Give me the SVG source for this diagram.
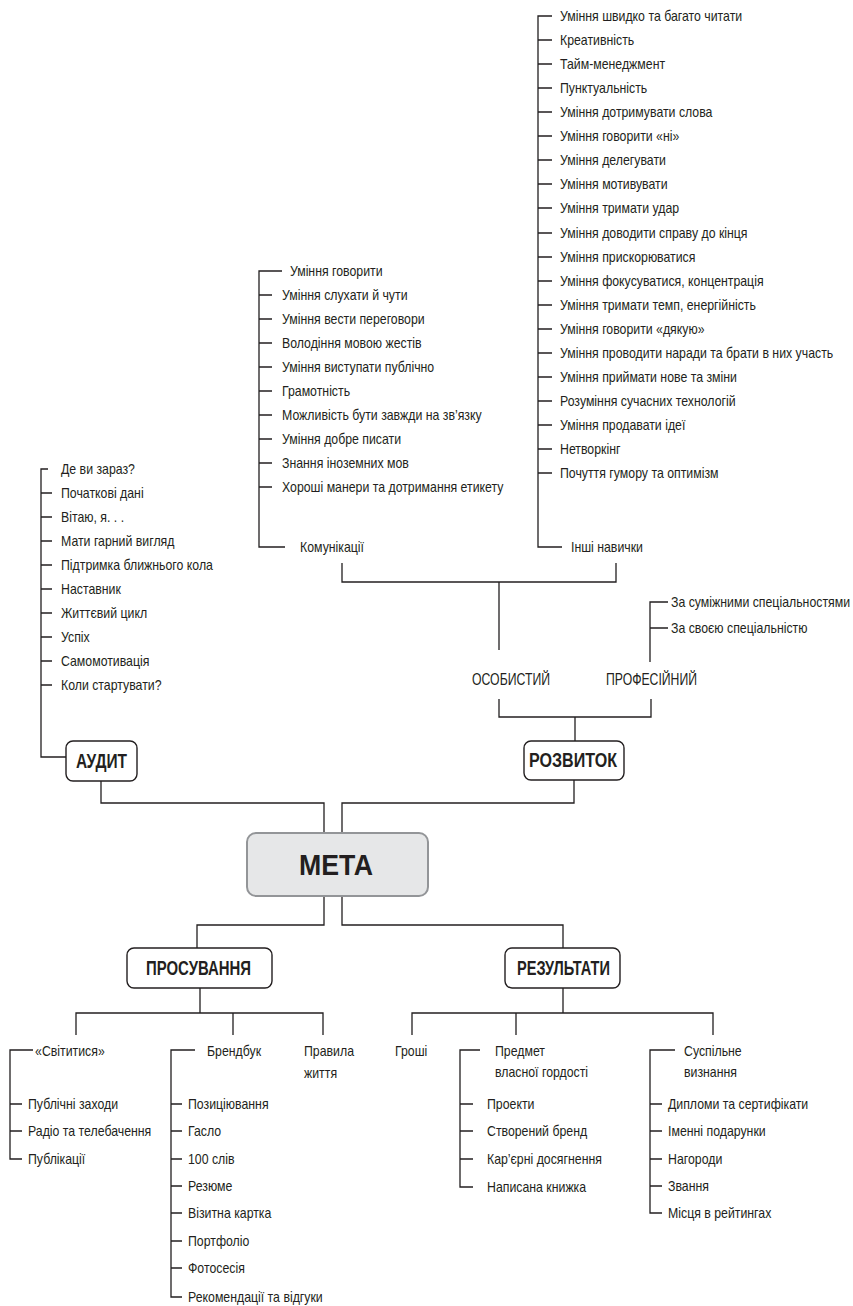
<svg xmlns="http://www.w3.org/2000/svg" width="853" height="1306" viewBox="0 0 853 1306">
<style>
text{font-family:"Liberation Sans",Arial,sans-serif;fill:#231f20}
.t{font-size:14px}
.m{font-size:16px;text-anchor:middle}
.b{font-weight:bold;text-anchor:middle;font-size:20px}
.big{font-weight:bold;text-anchor:middle;font-size:29px}
.ln{fill:none;stroke:#231f20;stroke-width:1.3}
.box{fill:#fff;stroke:#231f20;stroke-width:1.4}
</style>
<rect width="853" height="1306" fill="#fff"/>
<g id="connectors" class="ln">
<path d="M552,16H538V547H562"/>
<path d="M538,40H552M538,64H552M538,88H552M538,112H552M538,136H552M538,160H552M538,184H552M538,208H552M538,233H552M538,257H552M538,281H552M538,305H552M538,329H552M538,353H552M538,377H552M538,401H552M538,425H552M538,449H552M538,473H552"/>
<path d="M282,271H259V547H285"/>
<path d="M259,295H272M259,319H272M259,343H272M259,367H272M259,391H272M259,415H272M259,439H272M259,463H272M259,487H272"/>
<path d="M342,563V582H616V563M499,582V650"/>
<path d="M668,602H650V662M650,628H668"/>
<path d="M499,699V717H651V699M575,717V741"/>
<path d="M574,780V803H342V833"/>
<path d="M48,469H41V757H66"/>
<path d="M41,493H52M41,517H52M41,541H52M41,565H52M41,589H52M41,613H52M41,637H52M41,661H52M41,685H52"/>
<path d="M101,781V803H324V833"/>
<path d="M324,896V925H197V948M342,896V925H563V948"/>
<path d="M200,988V1013M76,1035V1013H323V1035M233,1013V1035"/>
<path d="M563,988V1013M412,1035V1013H713V1035M516,1013V1035"/>
<path d="M33,1050H10V1159H22M10,1104H22M10,1131H22"/>
<path d="M195,1050H171V1297H182M171,1104H182M171,1131H182M171,1159H182M171,1186H182M171,1213H182M171,1241H182M171,1268H182"/>
<path d="M480,1050H460V1187H473M460,1104H473M460,1131H473M460,1159H473"/>
<path d="M675,1050H650V1213H662M650,1104H662M650,1131H662M650,1159H662M650,1186H662"/>
</g>
<g id="other-skills" class="t" transform="translate(560,0) scale(0.88,1)">
<text x="0" y="21">Уміння швидко та багато читати</text>
<text x="0" y="45">Креативність</text>
<text x="0" y="69">Тайм-менеджмент</text>
<text x="0" y="93">Пунктуальність</text>
<text x="0" y="117">Уміння дотримувати слова</text>
<text x="0" y="141">Уміння говорити «ні»</text>
<text x="0" y="165">Уміння делегувати</text>
<text x="0" y="189">Уміння мотивувати</text>
<text x="0" y="213">Уміння тримати удар</text>
<text x="0" y="238">Уміння доводити справу до кінця</text>
<text x="0" y="262">Уміння прискорюватися</text>
<text x="0" y="286">Уміння фокусуватися, концентрація</text>
<text x="0" y="310">Уміння тримати темп, енергійність</text>
<text x="0" y="334">Уміння говорити «дякую»</text>
<text x="0" y="358">Уміння проводити наради та брати в них участь</text>
<text x="0" y="382">Уміння приймати нове та зміни</text>
<text x="0" y="406">Розуміння сучасних технологій</text>
<text x="0" y="430">Уміння продавати ідеї</text>
<text x="0" y="454">Нетворкінг</text>
<text x="0" y="478">Почуття гумору та оптимізм</text>
<text x="12.5" y="552">Інші навички</text>
</g>
<g id="communication" class="t" transform="translate(282,0) scale(0.88,1)">
<text x="9" y="276">Уміння говорити</text>
<text x="0" y="300">Уміння слухати й чути</text>
<text x="0" y="324">Уміння вести переговори</text>
<text x="0" y="348">Володіння мовою жестів</text>
<text x="0" y="372">Уміння виступати публічно</text>
<text x="0" y="396">Грамотність</text>
<text x="0" y="420">Можливість бути завжди на зв’язку</text>
<text x="0" y="444">Уміння добре писати</text>
<text x="0" y="468">Знання іноземних мов</text>
<text x="0" y="492">Хороші манери та дотримання етикету</text>
<text x="20.5" y="552">Комунікації</text>
</g>
<g id="personal"><text class="m" x="511" y="685" textLength="78" lengthAdjust="spacingAndGlyphs">ОСОБИСТИЙ</text></g>
<g id="professional">
<text class="m" x="651.5" y="685" textLength="91" lengthAdjust="spacingAndGlyphs">ПРОФЕСІЙНИЙ</text>
<g class="t" transform="translate(671,0) scale(0.88,1)">
<text x="0" y="607">За суміжними спеціальностями</text>
<text x="0" y="633">За своєю спеціальністю</text>
</g>
</g>
<g id="rozvytok">
<rect class="box" x="524" y="741" width="100" height="39" rx="7"/>
<text class="b" x="573" y="767" textLength="88" lengthAdjust="spacingAndGlyphs">РОЗВИТОК</text>
</g>
<g id="audit-list" class="t" transform="translate(61,0) scale(0.88,1)">
<text x="0" y="474">Де ви зараз?</text>
<text x="0" y="498">Початкові дані</text>
<text x="0" y="522">Вітаю, я. . .</text>
<text x="0" y="546">Мати гарний вигляд</text>
<text x="0" y="570">Підтримка ближнього кола</text>
<text x="0" y="594">Наставник</text>
<text x="0" y="618">Життєвий цикл</text>
<text x="0" y="642">Успіх</text>
<text x="0" y="666">Самомотивація</text>
<text x="0" y="690">Коли стартувати?</text>
</g>
<g id="audit">
<rect class="box" x="66" y="741" width="71" height="40" rx="7"/>
<text class="b" x="101.5" y="768" textLength="51" lengthAdjust="spacingAndGlyphs">АУДИТ</text>
</g>
<g id="meta">
<rect x="247" y="833" width="181" height="63" rx="9" fill="#e6e7e8" stroke="#939598" stroke-width="2"/>
<text class="big" x="336" y="875" textLength="74" lengthAdjust="spacingAndGlyphs">МЕТА</text>
</g>
<g id="prosuvannia">
<rect class="box" x="127" y="948" width="145" height="40" rx="7"/>
<text class="b" x="198.5" y="975" textLength="105" lengthAdjust="spacingAndGlyphs">ПРОСУВАННЯ</text>
</g>
<g id="rezultaty">
<rect class="box" x="505" y="948" width="115" height="40" rx="7"/>
<text class="b" x="563.5" y="975" textLength="93" lengthAdjust="spacingAndGlyphs">РЕЗУЛЬТАТИ</text>
</g>
<g id="svitytysia" class="t" transform="translate(28,0) scale(0.88,1)">
<text x="8" y="1056">«Світитися»</text>
<text x="0" y="1109">Публічні заходи</text>
<text x="0" y="1136">Радіо та телебачення</text>
<text x="0" y="1164">Публікації</text>
</g>
<g id="brendbuk" class="t" transform="translate(188,0) scale(0.88,1)">
<text x="21.6" y="1056">Брендбук</text>
<text x="0" y="1109">Позиціювання</text>
<text x="0" y="1136">Гасло</text>
<text x="0" y="1164">100 слів</text>
<text x="0" y="1191">Резюме</text>
<text x="0" y="1218">Візитна картка</text>
<text x="0" y="1246">Портфоліо</text>
<text x="0" y="1273">Фотосесія</text>
<text x="0" y="1302">Рекомендації та відгуки</text>
</g>
<g id="pravyla" class="t" transform="translate(304,0) scale(0.88,1)">
<text x="0" y="1056">Правила</text>
<text x="0" y="1078">життя</text>
</g>
<g id="groshi" class="t" transform="translate(395,0) scale(0.88,1)"><text x="0" y="1056">Гроші</text></g>
<g id="predmet" class="t" transform="translate(487,0) scale(0.88,1)">
<text x="9.1" y="1056">Предмет</text>
<text x="9.1" y="1077">власної гордості</text>
<text x="0" y="1109">Проекти</text>
<text x="0" y="1136">Створений бренд</text>
<text x="0" y="1164">Кар’єрні досягнення</text>
<text x="0" y="1192">Написана книжка</text>
</g>
<g id="suspilne" class="t" transform="translate(668,0) scale(0.88,1)">
<text x="18.2" y="1056">Суспільне</text>
<text x="18.2" y="1077">визнання</text>
<text x="0" y="1109">Дипломи та сертифікати</text>
<text x="0" y="1136">Іменні подарунки</text>
<text x="0" y="1164">Нагороди</text>
<text x="0" y="1191">Звання</text>
<text x="0" y="1218">Місця в рейтингах</text>
</g>
</svg>
